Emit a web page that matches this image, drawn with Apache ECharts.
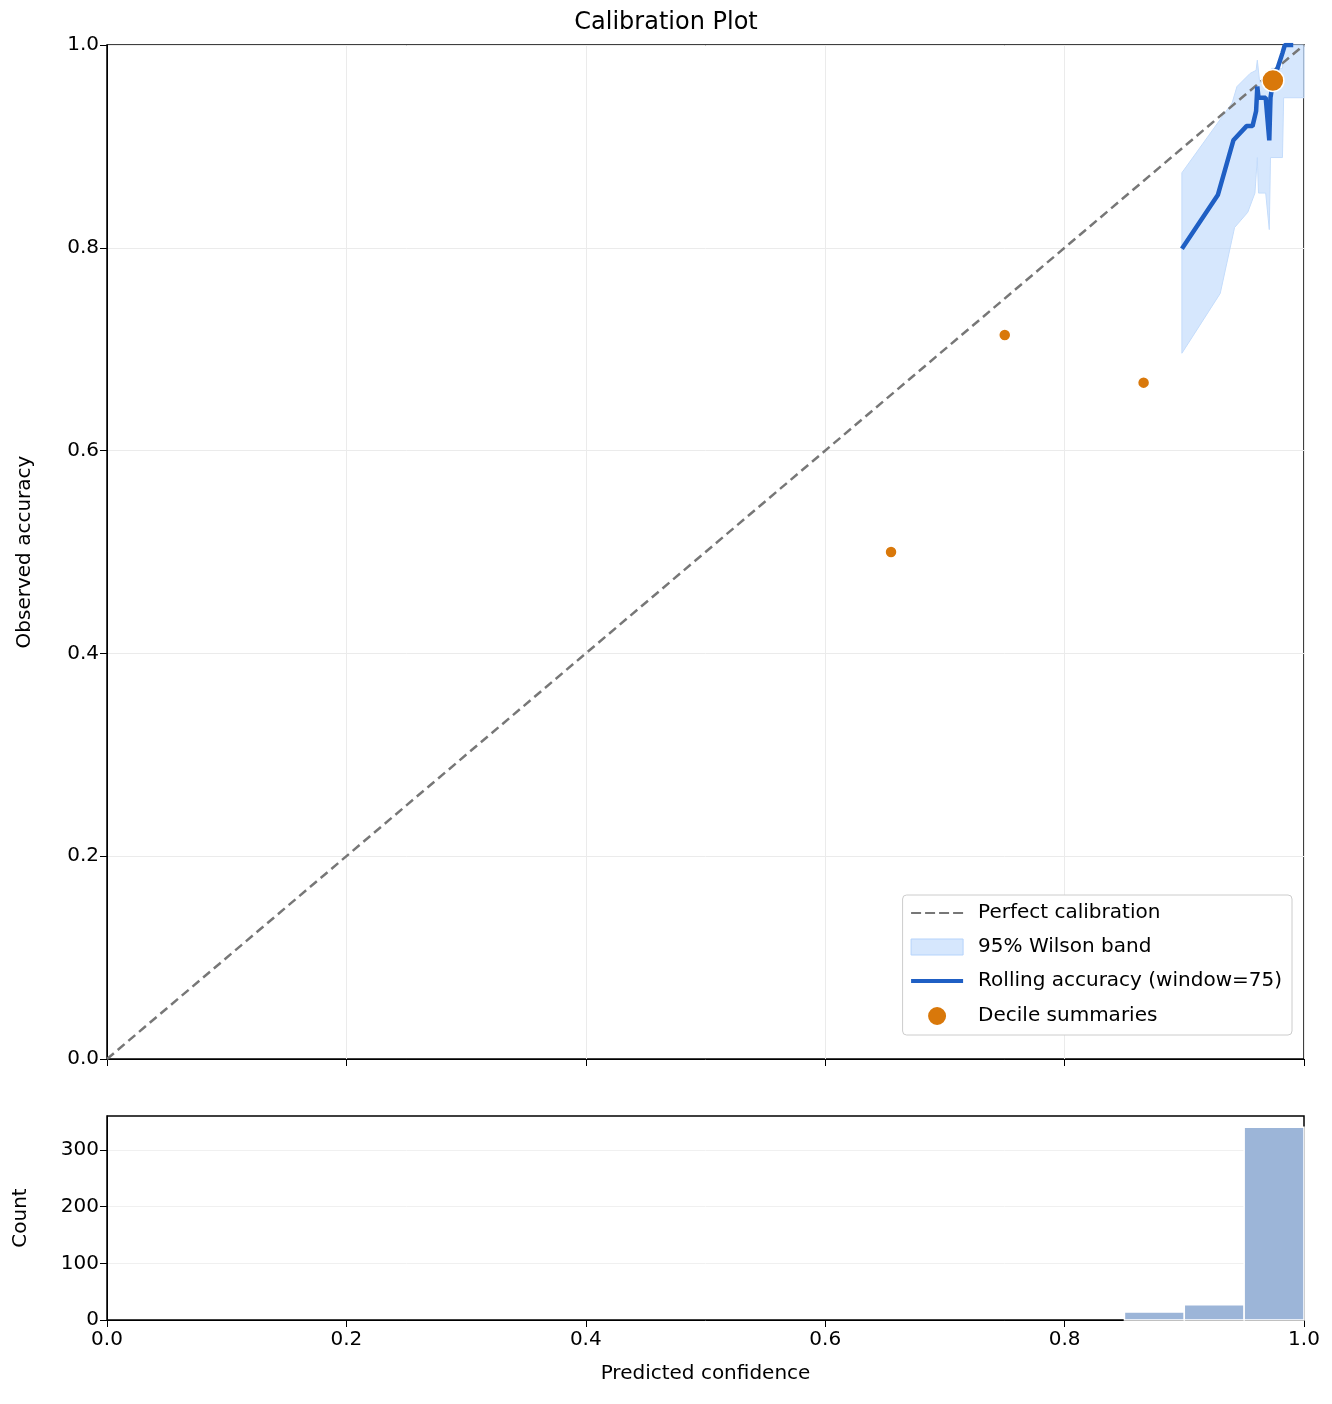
<!DOCTYPE html>
<html><head><meta charset="utf-8">
<script src="https://cdn.jsdelivr.net/npm/echarts@6/dist/echarts.min.js"></script>
<style>body{margin:0;background:#fff}#c{width:1332px;height:1404px}</style>
</head><body><div id="c"></div>
<script>
const diagonal = [[0, 0], [1, 1]];
const rollingLine = [[0.898,0.799],[0.928,0.852],[0.941,0.906],[0.952,0.920],[0.957,0.920],[0.960,0.935],[0.961,0.959],[0.962,0.948],[0.968,0.948],[0.971,0.906],[0.972,0.948],[0.974,0.963],[0.982,0.992],[0.984,1.0],[0.991,1.0]];
const bandUpper = [[0.898,0.874],[0.940,0.943],[0.944,0.959],[0.955,0.972],[0.960,0.975],[0.961,0.985],[0.963,0.963],[0.972,0.963],[0.973,0.977],[0.982,0.977],[0.983,1.0],[1.0,1.0]];
const bandLower = [[0.898,0.696],[0.930,0.755],[0.942,0.820],[0.953,0.835],[0.959,0.854],[0.961,0.889],[0.962,0.854],[0.968,0.854],[0.971,0.818],[0.972,0.889],[0.982,0.889],[0.983,0.948],[1.0,0.948]];
const deciles = [[0.655,0.500,10],[0.750,0.714,10],[0.866,0.667,10],[0.974,0.965,20]];
const histBins = [[0.85,0.90,14],[0.90,0.95,27],[0.95,1.00,340]];
const countTicks = [0, 100, 200, 300];

const font = 'DejaVu Sans';
const axisLbl = {color:'#000', fontSize:20, fontFamily:font};
const nameStyle = {fontSize:20, color:'#000', fontFamily:font};
const chart = echarts.init(document.getElementById('c'));
chart.setOption({
  animation:false,
  textStyle:{fontFamily:font},
  title:{text:'Calibration Plot', left:'center', top:6, textStyle:{fontSize:24, fontWeight:'normal', color:'#000', fontFamily:font}},
  grid:[
    {left:107, top:45, width:1197, height:1014, show:true, borderColor:'#000', borderWidth:1.5},
    {left:107, top:1116, width:1197, height:204, show:true, borderColor:'#000', borderWidth:1.5}
  ],
  xAxis:[
    {gridIndex:0, type:'value', min:0, max:1, interval:0.2, axisLabel:{show:false}, axisTick:{length:7, lineStyle:{color:'#000'}}, axisLine:{lineStyle:{color:'#000'}}, splitLine:{lineStyle:{color:'#ebebeb'}}},
    {gridIndex:1, type:'value', min:0, max:1, interval:0.2, name:'Predicted confidence', nameLocation:'middle', nameGap:44, nameTextStyle:nameStyle,
     axisLabel:Object.assign({formatter:v=>v.toFixed(1), margin:10}, axisLbl), axisTick:{length:7, lineStyle:{color:'#000'}}, axisLine:{lineStyle:{color:'#000'}}, splitLine:{show:false}}
  ],
  yAxis:[
    {gridIndex:0, type:'value', min:0, max:1, interval:0.2, name:'Observed accuracy', nameLocation:'middle', nameGap:72, nameTextStyle:nameStyle,
     axisLabel:Object.assign({formatter:v=>v.toFixed(1)}, axisLbl), axisTick:{show:true, length:7, lineStyle:{color:'#000'}}, axisLine:{show:true, lineStyle:{color:'#000'}}, splitLine:{lineStyle:{color:'#ebebeb'}}},
    {gridIndex:1, type:'value', min:0, max:360, interval:100, name:'Count', nameLocation:'middle', nameGap:76, nameTextStyle:nameStyle,
     axisLabel:Object.assign({customValues:countTicks}, axisLbl), axisTick:{show:true, customValues:countTicks, length:7, lineStyle:{color:'#000'}}, axisLine:{show:true, lineStyle:{color:'#000'}}, splitLine:{lineStyle:{color:'#f0f0f0'}}}
  ],
  legend:{
    orient:'vertical', right:40, top:895, itemGap:14, itemWidth:52, itemHeight:20,
    backgroundColor:'#fff', borderColor:'#ccc', borderWidth:1, borderRadius:4, padding:[8,10,8,8],
    textStyle:{fontSize:20, color:'#000', fontFamily:font, padding:[0,0,0,10]},
    data:[
      {name:'Perfect calibration', icon:'path://M0,9H10V11H0ZM14,9H24V11H14ZM28,9H38V11H28ZM42,9H52V11H42Z', itemStyle:{color:'#777'}},
      {name:'95% Wilson band', icon:'path://M0,2H52V18H0Z', itemStyle:{color:'#d6e7fd', borderColor:'#b5d3fb', borderWidth:1}},
      {name:'Rolling accuracy (window=75)', icon:'path://M0,8H52V12H0Z', itemStyle:{color:'#1f5fc4'}},
      {name:'Decile summaries', icon:'path://M18,12A8,8 0 1,0 34,12A8,8 0 1,0 18,12Z', itemStyle:{color:'#d9780a'}}
    ]
  },
  series:[
    {name:'Perfect calibration', type:'line', xAxisIndex:0, yAxisIndex:0, data:diagonal, symbol:'none', lineStyle:{color:'#777', width:2.5, type:[9,5]}, z:3},
    {name:'95% Wilson band', type:'custom', xAxisIndex:0, yAxisIndex:0, data:[0], z:2,
     renderItem:(params, api)=>{
       const pts = bandUpper.map(p=>api.coord(p)).concat(bandLower.slice().reverse().map(p=>api.coord(p)));
       return {type:'polygon', shape:{points:pts}, style:{fill:'rgba(180,212,252,0.55)', stroke:'#c4dcfb', lineWidth:1}};
     }},
    {name:'Rolling accuracy (window=75)', type:'line', xAxisIndex:0, yAxisIndex:0, data:rollingLine, symbol:'none', lineStyle:{color:'#1f5fc4', width:4.5}, z:4},
    {name:'Decile summaries', type:'scatter', xAxisIndex:0, yAxisIndex:0, data:deciles, symbolSize:d=>d[2]+2,
     itemStyle:{color:'#d9780a', borderColor:'#fff', borderWidth:1.5, opacity:1}, z:5},
    {name:'hist', type:'custom', xAxisIndex:1, yAxisIndex:1, data:histBins,
     renderItem:(params, api)=>{
       const a = api.coord([api.value(0), api.value(2)]);
       const b = api.coord([api.value(1), 0]);
       return {type:'rect', shape:{x:a[0], y:a[1], width:b[0]-a[0], height:b[1]-a[1]}, style:{fill:'#9cb5d8', stroke:'#fff', lineWidth:1.5}};
     }}
  ]
});
</script></body></html>
